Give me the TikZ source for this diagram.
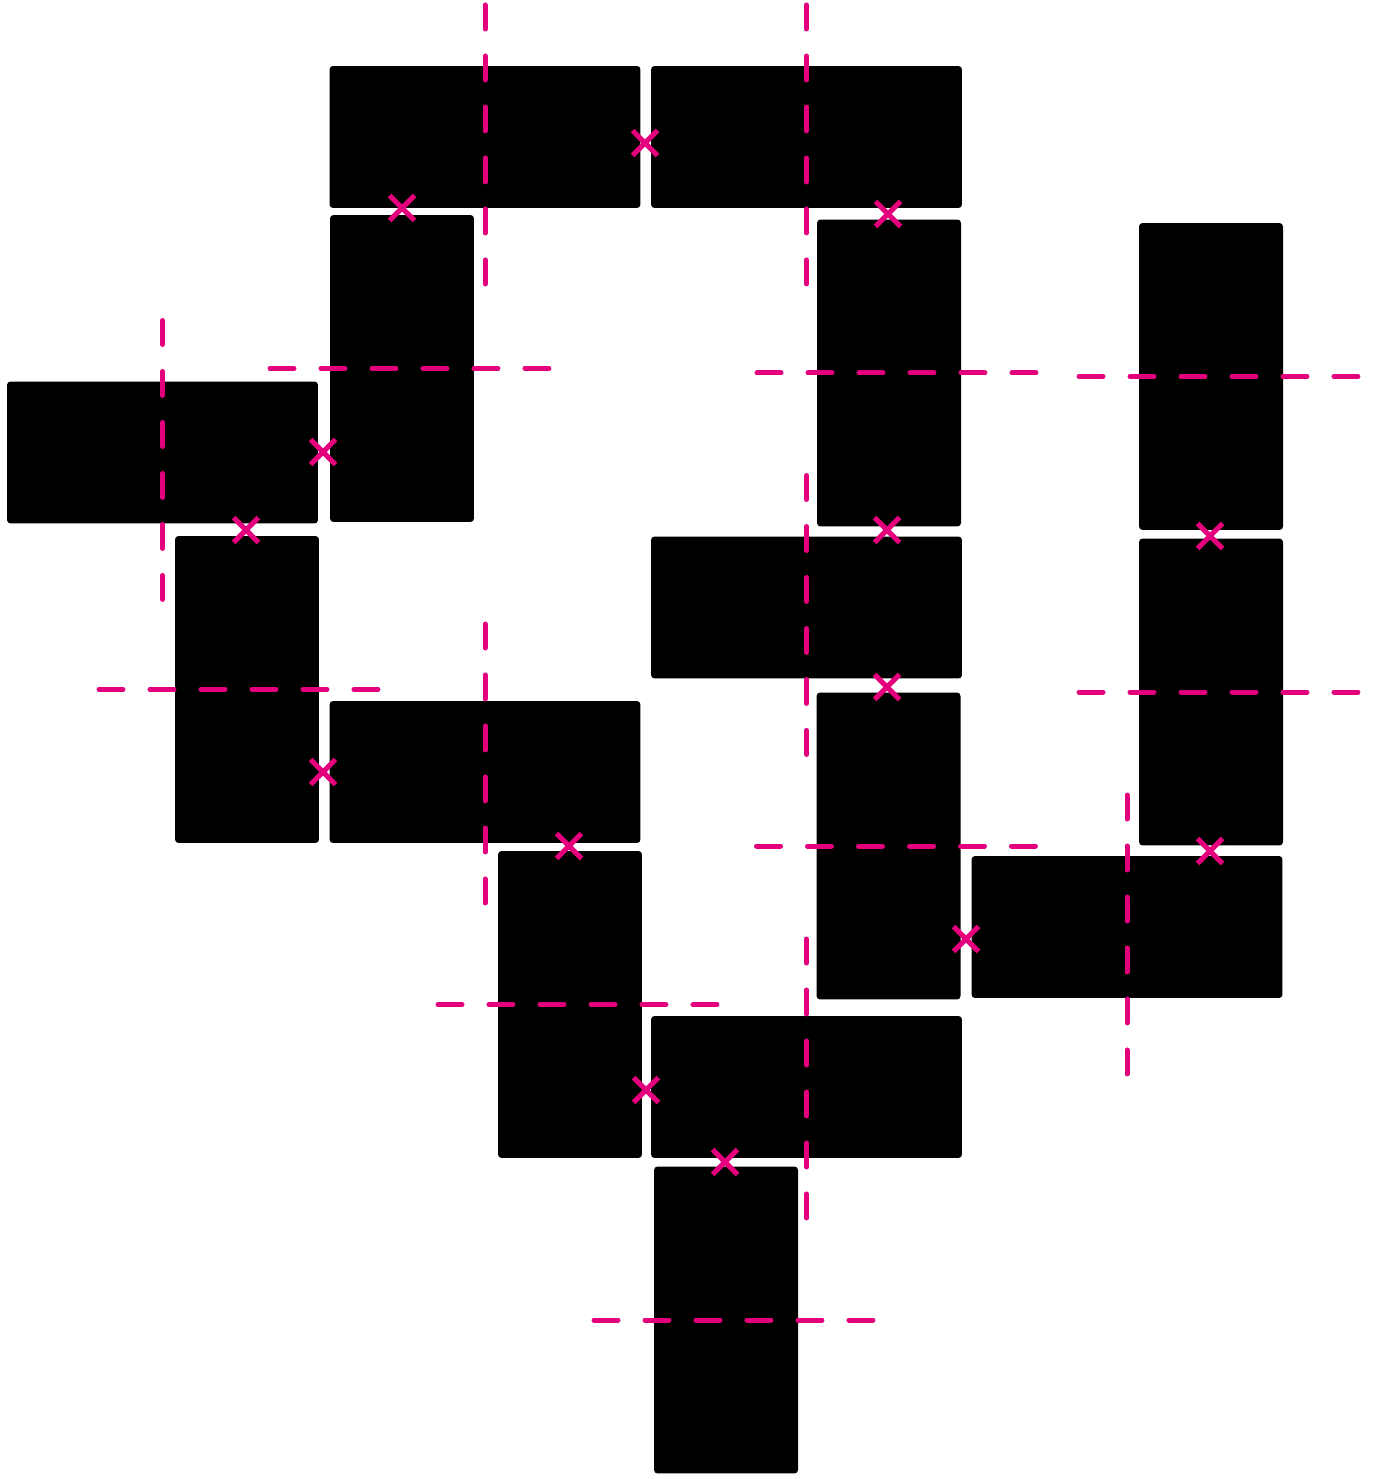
\documentclass[tikz,border=0pt]{standalone}
\usepackage{tikz}
\usetikzlibrary{shapes.misc,calc,positioning}
\usepackage{xcolor}
\definecolor{cutpink}{RGB}{228,0,124}
\tikzset{
    domino/.style={rectangle, fill=black, rounded corners=0.07cm, inner sep=0pt},
    dominoH/.style={domino, minimum width=6.22cm, minimum height=2.84cm},
    dominoV/.style={domino, minimum width=2.88cm, minimum height=6.14cm},
    cutline/.style={cutpink, line width=0.1cm, line cap=round, dash pattern=on 0.48cm off 0.54cm},
    joint/.style={cross out, draw=cutpink, line width=0.1cm, minimum size=0.4cm, inner sep=0pt},
}

\begin{document}
\begin{tikzpicture}[x=0.02cm, y=-0.02cm]
    \useasboundingbox (0,0) rectangle (1372,1479);
    % Horizontal dominoes
    \foreach \n/\x/\y in {r1/485/137, r2/806.5/137, r4/162.5/452.5, r6/485/772,
                          r8/806.5/1087, r11/806.5/607.5, r13/1127/927} {
        \node[dominoH] (\n) at (\x,\y) {};
    }
    % Vertical dominoes
    \foreach \n/\x/\y in {r3/402/368.5, r5/247/689.5, r7/570/1004.5, r9/726/1320,
                          r10/889/373, r12/888.5/846, r14/1211/376.5, r15/1211/692} {
        \node[dominoV] (\n) at (\x,\y) {};
    }
    % Cuts across the horizontal ones
    \foreach \n/\s in {r1/8, r2/8, r4/8, r6/-8, r8/-8, r11/8, r13/8} {
        \draw[cutline] ($(\n.center)+(0,\s-140)$) -- ++(0,280);
    }
    % Cuts across the vertical ones
    \foreach \n/\s in {r3/8, r5/-8, r7/8, r9/8, r10/8, r12/8, r14/8, r15/8} {
        \draw[cutline] ($(\n.center)+(\s-140,0)$) -- ++(280,0);
    }
    % Joints
    \foreach \n/\x/\y in {j12/645/143, j13/402/208, j210/888/214, j34/323/452,
                          j45/246/530, j56/323/772, j67/569/846, j78/646/1090,
                          j89/725/1162, j1011/887/530, j1112/887/687, j1213/966/939,
                          j1513/1210/851, j1415/1210/536} {
        \node[joint] (\n) at (\x,\y) {};
    }
\end{tikzpicture}
\end{document}
